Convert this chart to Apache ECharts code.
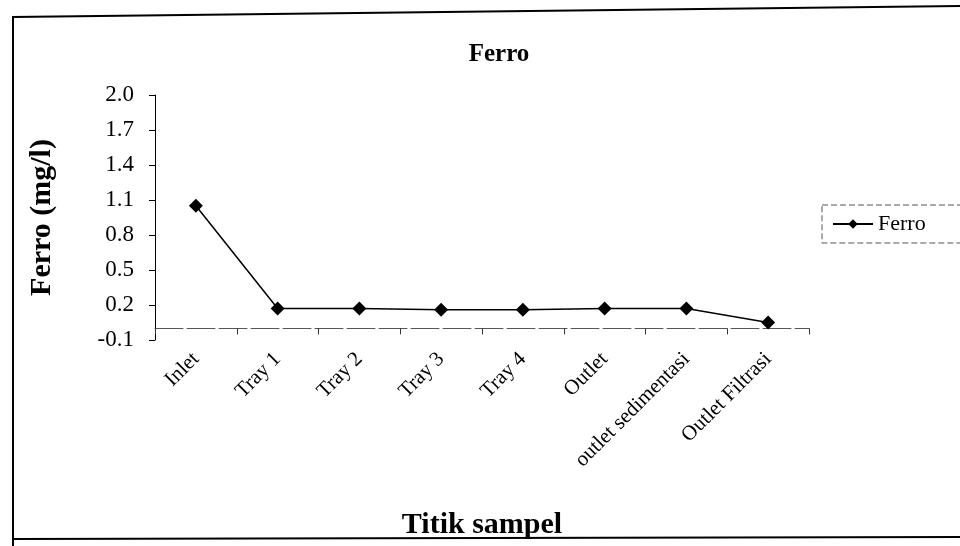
<!DOCTYPE html>
<html>
<head>
<meta charset="utf-8">
<script src="https://cdn.jsdelivr.net/npm/echarts@6/dist/echarts.min.js"></script>
<style>
  html, body { margin: 0; padding: 0; background: #fff; }
  #chart { width: 960px; height: 546px; }
</style>
</head>
<body>
<div id="chart"></div>
<script>
const categories = ['Inlet', 'Tray 1', 'Tray 2', 'Tray 3', 'Tray 4', 'Outlet', 'outlet sedimentasi', 'Outlet Filtrasi']
const ferroValues = [1.05, 0.17, 0.17, 0.16, 0.16, 0.17, 0.17, 0.05]
const yMin = -0.1
const yMax = 2.0
const yStep = 0.3

const serif = '"Liberation Serif", "DejaVu Serif", serif'

const chart = echarts.init(document.getElementById('chart'))

const option = {
  backgroundColor: '#fff',
  animation: false,
  title: {
    text: 'Ferro',
    left: 494,
    top: 37,
    textAlign: 'center',
    textStyle: { fontFamily: serif, fontSize: 25, fontWeight: 'bold', color: '#000' }
  },
  legend: {
    data: ['Ferro'],
    left: 822,
    top: 205,
    padding: [8, 60, 8, 10],
    borderColor: '#555',
    borderWidth: 1,
    borderType: [6, 3],
    itemWidth: 40,
    itemHeight: 12,
    itemGap: 4,
    textStyle: { fontFamily: serif, fontSize: 22, color: '#000' }
  },
  grid: {
    left: 155,
    right: 151,
    top: 95,
    bottom: 206
  },
  xAxis: {
    type: 'category',
    data: categories,
    boundaryGap: true,
    name: 'Titik sampel',
    nameLocation: 'middle',
    nameGap: 170,
    nameTextStyle: { fontFamily: serif, fontSize: 30, fontWeight: 'bold', color: '#000' },
    axisLine: { onZero: true, lineStyle: { color: '#555', width: 1, type: [28, 4] } },
    axisTick: { show: true, length: 6, lineStyle: { color: '#333' } },
    axisLabel: {
      rotate: 45,
      margin: 16,
      interval: 0,
      fontFamily: serif,
      fontSize: 21,
      color: '#000'
    }
  },
  yAxis: {
    type: 'value',
    min: yMin,
    max: yMax,
    interval: yStep,
    name: 'Ferro (mg/l)',
    nameLocation: 'middle',
    nameGap: 98,
    nameRotate: 90,
    nameTextStyle: { fontFamily: serif, fontSize: 30, fontWeight: 'bold', color: '#000' },
    axisLine: { show: true, lineStyle: { color: '#000', width: 1 } },
    axisTick: { show: true, length: 6, lineStyle: { color: '#000' } },
    splitLine: { show: false },
    axisLabel: {
      fontFamily: serif,
      fontSize: 23,
      color: '#000',
      margin: 21,
      formatter: v => v.toFixed(1)
    }
  },
  series: [
    {
      name: 'Ferro',
      type: 'line',
      data: ferroValues,
      symbol: 'diamond',
      symbolSize: 14,
      itemStyle: { color: '#000' },
      lineStyle: { color: '#000', width: 1.5 }
    }
  ],
  graphic: [
    {
      type: 'polyline',
      shape: { points: [[960, 6], [13, 17], [13, 546]] },
      style: { stroke: '#000', lineWidth: 2, fill: null }
    },
    {
      type: 'line',
      shape: { x1: 13, y1: 539, x2: 960, y2: 537 },
      style: { stroke: '#000', lineWidth: 2 }
    }
  ]
}

chart.setOption(option)
</script>
</body>
</html>
